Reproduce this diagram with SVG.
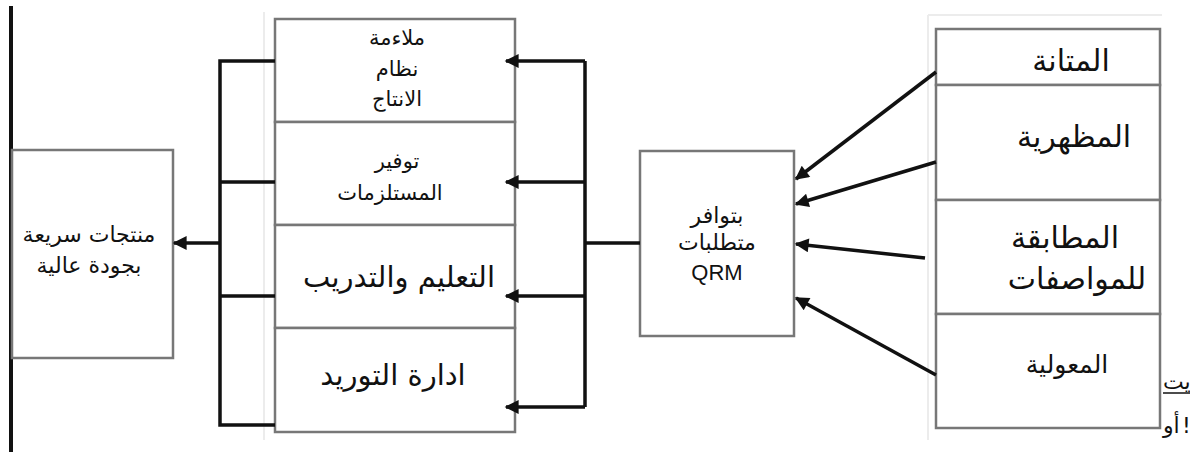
<svg xmlns="http://www.w3.org/2000/svg" width="1190" height="452" viewBox="0 0 1190 452">
<defs>
<style>
.box{fill:#fff;stroke:#777;stroke-width:2.5}
.bus{fill:none;stroke:#111;stroke-width:3.5}
.arr{fill:none;stroke:#111;stroke-width:3.5;marker-end:url(#ah)}
.faint{fill:none;stroke:#ececec;stroke-width:2}
text{font-family:"DejaVu Sans","Noto Sans",sans-serif;fill:#111;text-anchor:middle}
.s21{font-size:21px}
.s22{font-size:22px}
.s29{font-size:29px}
.r30{font-size:30px}
.r25{font-size:25px}
.lat{font-family:"Liberation Sans",Arial,sans-serif;font-size:22px}
.cut{font-size:22px;text-anchor:start}
</style>
<marker id="ah" viewBox="0 0 10 10" refX="9" refY="5" markerWidth="18" markerHeight="14" markerUnits="userSpaceOnUse" orient="auto">
<path d="M0,0 L10,5 L0,10 z" fill="#111"/>
</marker>
</defs>
<rect width="1190" height="452" fill="#fff"/>
<line x1="11" y1="6" x2="11" y2="452" stroke="#111" stroke-width="4"/>
<path class="faint" d="M264,12 V440 M928,15 H1162 M928,15 V440"/>

<g id="n-output">
<rect class="box" x="12" y="150" width="161" height="208"/>
<text class="s22" x="89" y="242">منتجات سريعة</text>
<text class="s22" x="89" y="273">بجودة عالية</text>
</g>

<g id="n-fit">
<rect class="box" x="275" y="19" width="240" height="103"/>
<text class="s21" x="397" y="45">ملاءمة</text>
<text class="s21" x="397" y="76">نظام</text>
<text class="s21" x="397" y="106">الانتاج</text>
</g>
<g id="n-supplies">
<rect class="box" x="275" y="122" width="240" height="103"/>
<text class="s21" x="397" y="168">توفير</text>
<text class="s21" x="390" y="200">المستلزمات</text>
</g>
<g id="n-training">
<rect class="box" x="275" y="225" width="240" height="103"/>
<text class="s29" x="399" y="287">التعليم والتدريب</text>
</g>
<g id="n-supply">
<rect class="box" x="275" y="328" width="240" height="104"/>
<text class="s29" x="393" y="385">ادارة التوريد</text>
</g>

<g id="n-qrm">
<rect class="box" x="640" y="151" width="154" height="185"/>
<text class="s22" x="717" y="223">بتوافر</text>
<text class="s22" x="717" y="250">متطلبات</text>
<text class="lat" x="717" y="280">QRM</text>
</g>

<g id="n-strength">
<rect class="box" x="936" y="29" width="224" height="56"/>
<text class="r30" x="1071" y="71">المتانة</text>
</g>
<g id="n-appearance">
<rect class="box" x="936" y="85" width="224" height="115"/>
<text class="r30" x="1074" y="147">المظهرية</text>
</g>
<g id="n-conformity">
<rect class="box" x="936" y="200" width="224" height="114"/>
<text class="r30" x="1065" y="248">المطابقة</text>
<text class="r30" x="1077" y="289">للمواصفات</text>
</g>
<g id="n-reliability">
<rect class="box" x="936" y="314" width="224" height="114"/>
<text class="r25" x="1067" y="373">المعولية</text>
</g>

<g id="connectors">
<path class="bus" d="M275,61 H220 V425 H275 M220,182 H275 M220,296 H275"/>
<line class="arr" x1="220" y1="243" x2="174" y2="243"/>
<path class="bus" d="M585,61 V407 M585,243 H640"/>
<line class="arr" x1="585" y1="61" x2="506" y2="61"/>
<line class="arr" x1="585" y1="182" x2="506" y2="182"/>
<line class="arr" x1="585" y1="296" x2="506" y2="296"/>
<line class="arr" x1="585" y1="407" x2="506" y2="407"/>
<line class="arr" x1="936" y1="72" x2="796" y2="179"/>
<line class="arr" x1="936" y1="162" x2="796" y2="204"/>
<line class="arr" x1="925" y1="258" x2="796" y2="244"/>
<line class="arr" x1="936" y1="375" x2="796" y2="298"/>
</g>

<text class="cut" x="1163" y="389">يت</text>
<line x1="1163" y1="393" x2="1190" y2="393" stroke="#111" stroke-width="1.5"/>
<text class="cut" x="1163" y="433">أو<tspan x="1182">!</tspan></text>
</svg>
